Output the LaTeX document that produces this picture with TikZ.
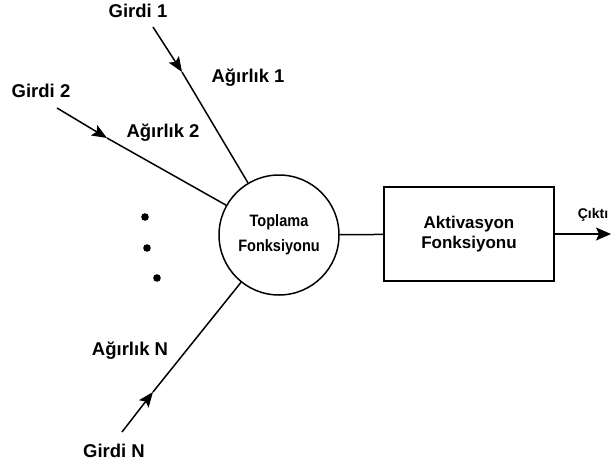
\documentclass[tikz,border=0pt]{standalone}
\usepackage{fontspec}
\setmainfont{Liberation Sans}
\newfontfamily\narrowsans[FakeStretch=0.88]{Liberation Sans}
\usetikzlibrary{arrows.meta}

\begin{document}
\begin{tikzpicture}[x=1pt,y=-1pt,line width=1.5pt,
  lbl/.style={font=\bfseries\fontsize{18.5}{20}\selectfont,anchor=base,inner sep=0pt},
  tip/.style={-{Stealth[length=15pt,width=12pt,inset=3pt]}}]
\useasboundingbox (0,0) rectangle (612,465);

\node[circle,draw=black,minimum size=120pt,align=center,font=\narrowsans\bfseries\fontsize{16.5}{25}\selectfont] (sum) at (279,235) {Toplama\\Fonksiyonu};
\node[rectangle,draw=black,minimum width=170pt,minimum height=94pt,align=center,font=\bfseries\fontsize{17}{20}\selectfont] (act) at (469,234) {Aktivasyon\\Fonksiyonu};

\node[lbl] (g1) at (138,18) {Girdi 1};
\node[lbl] (w1) at (248,83) {Ağırlık 1};
\node[lbl] (g2) at (41,98) {Girdi 2};
\node[lbl] (w2) at (163,138) {Ağırlık 2};
\node[lbl] (wn) at (130,355) {Ağırlık N};
\node[lbl] (gn) at (114,457) {Girdi N};
\node[lbl,font=\bfseries\fontsize{14}{16}\selectfont] (y) at (593,218) {Çıktı};

\coordinate (s1) at (153,27);
\coordinate (m1) at (182,72);
\coordinate (s2) at (57,108);
\coordinate (m2) at (107,138);
\coordinate (sn) at (122,432);
\coordinate (mn) at (153,392);
\coordinate (out) at (611,234);

\draw[tip] (s1)--(m1);
\draw[tip] (s2)--(m2);
\draw[tip] (sn)--(mn);
\draw (m1)--(sum) (m2)--(sum) (mn)--(sum) (sum)--(act);
\draw[-{Stealth[length=15pt,width=13pt,inset=3pt]}] (act)--(out);

\fill (145,217) circle (3.8pt) (147,248) circle (3.8pt) (157,278) circle (3.8pt);
\end{tikzpicture}
\end{document}
